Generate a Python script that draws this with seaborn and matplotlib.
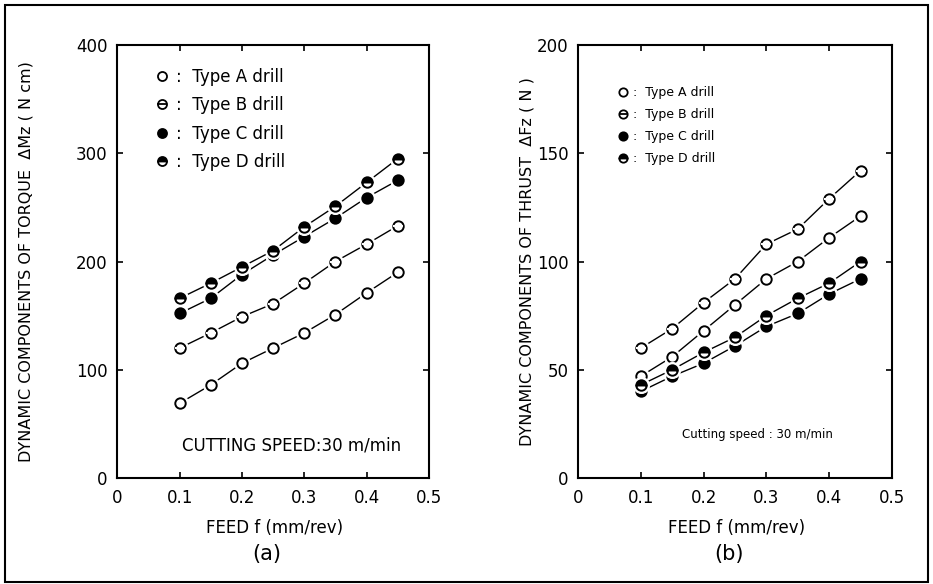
import matplotlib
matplotlib.use("Agg")
import matplotlib.pyplot as plt
import pandas as pd
import seaborn as sns

feed = [0.10, 0.15, 0.20, 0.25, 0.30, 0.35, 0.40, 0.45]

torque_a = [69, 86, 106, 120, 134, 151, 171, 190]
torque_b = [120, 134, 149, 161, 180, 200, 216, 233]
torque_c = [152, 166, 188, 206, 223, 240, 259, 275]
torque_d = [166, 180, 195, 210, 232, 251, 273, 295]

thrust_a = [47, 56, 68, 80, 92, 100, 111, 121]
thrust_b = [60, 69, 81, 92, 108, 115, 129, 142]
thrust_c = [40, 47, 53, 61, 70, 76, 85, 92]
thrust_d = [43, 50, 58, 65, 75, 83, 90, 100]

drills = ["A", "B", "C", "D"]
x_ticks = [0, 0.1, 0.2, 0.3, 0.4, 0.5]
x_labels = ["0", "0.1", "0.2", "0.3", "0.4", "0.5"]


def long_table(values):
    rows = []
    for d, serie in zip(drills, values):
        for f, v in zip(feed, serie):
            rows.append({"drill": d, "feed": f, "value": v})
    return pd.DataFrame(rows)


torque = long_table([torque_a, torque_b, torque_c, torque_d])
thrust = long_table([thrust_a, thrust_b, thrust_c, thrust_d])

MS = 7.5
styles = {
    "A": dict(markerfacecolor="white"),
    "B": dict(markerfacecolor="white"),
    "C": dict(markerfacecolor="black"),
    "D": dict(fillstyle="top", markerfacecolor="black", markerfacecoloralt="white"),
}

sns.set_theme(style="ticks", rc={"text.color": "black", "axes.labelcolor": "black",
                                 "xtick.color": "black", "ytick.color": "black"})
plt.rcParams["font.family"] = ["DejaVu Sans"]

fig = plt.figure(figsize=(9.33, 5.84), dpi=100)
ax1 = fig.add_axes([0.1257, 0.1815, 0.334, 0.7414])
ax2 = fig.add_axes([0.6195, 0.1815, 0.3365, 0.7414])


def tracer(ax, df):
    for d in drills:
        sub = df[df["drill"] == d]
        sns.lineplot(data=sub, x="feed", y="value", ax=ax, color="black", lw=1.0)
        # white halo so the line stops short of the marker
        sns.lineplot(data=sub, x="feed", y="value", ax=ax, color="white",
                     linestyle="", marker="o", markersize=MS + 4,
                     markeredgecolor="white")
        sns.lineplot(data=sub, x="feed", y="value", ax=ax, color="black",
                     linestyle="", marker="o", markersize=MS,
                     markeredgecolor="black", markeredgewidth=1.4, **styles[d])
        if d == "B":
            sns.lineplot(data=sub, x="feed", y="value", ax=ax, color="black",
                         linestyle="", marker="_", markersize=MS,
                         markeredgewidth=1.4)


def habiller(ax, ymax, ystep, ylabel, xlabel_pos, tag):
    ax.set_xlim(0, 0.5)
    ax.set_ylim(0, ymax)
    ax.set_xticks(x_ticks)
    ax.set_xticklabels(x_labels)
    ax.set_yticks(list(range(0, ymax + 1, ystep)))
    ax.tick_params(direction="in", length=4, width=1.2, labelsize=12,
                   top=True, right=True, pad=8)
    ax.tick_params(axis="y", pad=7)
    for s in ax.spines.values():
        s.set_linewidth(1.5)
        s.set_color("black")
    ax.set_xlabel("FEED f (mm/rev)", fontsize=12)
    ax.xaxis.set_label_coords(0.505, -0.095)
    ax.set_ylabel(ylabel, fontsize=11.5)
    ax.yaxis.set_label_coords(xlabel_pos, 0.5)
    ax.text(0.48, -0.175, tag, transform=ax.transAxes, fontsize=15,
            ha="center", va="center")


tracer(ax1, torque)
tracer(ax2, thrust)

habiller(ax1, 400, 100, "DYNAMIC COMPONENTS OF TORQUE  ΔMz ( N cm)", -0.27, "(a)")
habiller(ax2, 200, 50, "DYNAMIC COMPONENTS OF THRUST  ΔFz ( N )", -0.137, "(b)")

ax1.text(0.56, 0.076, "CUTTING SPEED:30 m/min", transform=ax1.transAxes,
         fontsize=12, ha="center", va="center")
ax2.text(0.57, 0.10, "Cutting speed : 30 m/min", transform=ax2.transAxes,
         fontsize=8.5, ha="center", va="center")


def legende(ax, anchor, size, spacing, ms):
    handles = []
    for d in drills:
        base = plt.Line2D([], [], color="black", linestyle="", marker="o",
                          markersize=ms, markeredgecolor="black",
                          markeredgewidth=1.3, **styles[d])
        if d == "B":
            bar = plt.Line2D([], [], color="black", linestyle="", marker="_",
                             markersize=ms, markeredgewidth=1.3)
            handles.append((base, bar))
        else:
            handles.append(base)
    labels = [f":  Type {d} drill" for d in drills]
    ax.legend(handles, labels, loc="upper left", bbox_to_anchor=anchor,
              frameon=False, fontsize=size, handlelength=1.0,
              handletextpad=0.3, borderpad=0, borderaxespad=0,
              labelspacing=spacing)


legende(ax1, (0.118, 0.947), 12, 0.62, 6.5)
legende(ax2, (0.124, 0.905), 9, 0.72, 6)

fig.add_artist(plt.Rectangle((0.005, 0.004), 0.99, 0.987,
                             transform=fig.transFigure, fill=False,
                             lw=1.5, color="black"))

fig.savefig("out.png", dpi=100, facecolor="white")
